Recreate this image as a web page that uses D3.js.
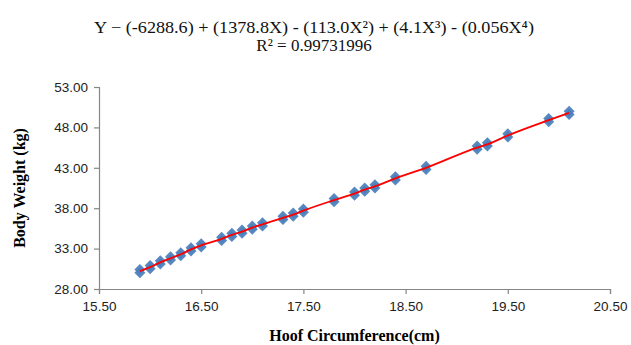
<!DOCTYPE html>
<html>
<head>
<meta charset="utf-8">
<script src="https://cdn.jsdelivr.net/npm/d3@7"></script>
<style>
  body { margin: 0; background: #fff; }
  svg { display: block; }
</style>
</head>
<body>
<div id="chart"></div>
<script>
// hoof circumference (cm) and body weight (kg), two observations per size
var hoof = [15.9, 15.9, 16.0, 16.0, 16.1, 16.1, 16.2, 16.2, 16.3, 16.3, 16.4, 16.4, 16.5, 16.5,
  16.7, 16.7, 16.8, 16.8, 16.9, 16.9, 17.0, 17.0, 17.1, 17.1,
  17.3, 17.3, 17.4, 17.4, 17.5, 17.5, 17.8, 17.8,
  18.0, 18.0, 18.1, 18.1, 18.2, 18.2, 18.4, 18.4, 18.7, 18.7,
  19.2, 19.2, 19.3, 19.3, 19.5, 19.5, 19.9, 19.9, 20.1, 20.1];
var weight = [30.0, 30.4, 30.5, 30.9, 31.1, 31.5, 31.6, 32.0, 32.1, 32.5, 32.7, 33.1, 33.2, 33.6,
  34.0, 34.4, 34.5, 34.9, 34.9, 35.3, 35.4, 35.8, 35.8, 36.2,
  36.6, 37.0, 37.0, 37.4, 37.5, 37.9, 38.8, 39.2,
  39.6, 40.0, 40.1, 40.5, 40.5, 40.9, 41.5, 41.9, 42.8, 43.2,
  45.3, 45.7, 45.7, 46.1, 46.8, 47.2, 48.7, 49.1, 49.6, 50.0];

// polynomial trend line values at each measured size
var fitX = [15.9, 16.0, 16.1, 16.2, 16.3, 16.4, 16.5, 16.7, 16.8, 16.9, 17.0, 17.1,
  17.3, 17.4, 17.5, 17.8, 18.0, 18.1, 18.2, 18.4, 18.7, 19.2, 19.3, 19.5, 19.9, 20.1];
var fitY = [30.2, 30.7, 31.3, 31.8, 32.3, 32.9, 33.4, 34.2, 34.7, 35.1, 35.6, 36.0,
  36.8, 37.2, 37.7, 39.0, 39.8, 40.3, 40.7, 41.7, 43.0, 45.5, 45.9, 47.0, 48.9, 49.8];

var xTicks = [15.5, 16.5, 17.5, 18.5, 19.5, 20.5];
var yTicks = [28, 33, 38, 43, 48, 53];

var titleLines = ["Y \u2212 (-6288.6) + (1378.8X) - (113.0X\u00b2) + (4.1X\u00b3) - (0.056X\u2074)",
  "R\u00b2 = 0.99731996"];

var W = 631, H = 345;
var margin = { top: 87, right: 21, bottom: 56, left: 99 };

var svg = d3.select("#chart").append("svg")
  .attr("width", W).attr("height", H);

var x = d3.scaleLinear().domain([15.5, 20.5]).range([margin.left, W - margin.right]);
var y = d3.scaleLinear().domain([28, 53]).range([H - margin.bottom, margin.top]);

// axes
var xAxis = svg.append("g")
  .attr("transform", "translate(0," + y(28) + ")")
  .call(d3.axisBottom(x).tickValues(xTicks).tickFormat(d3.format(".2f")).tickSizeOuter(0).tickSize(5).tickPadding(7));
var yAxis = svg.append("g")
  .attr("transform", "translate(" + x(15.5) + ",0)")
  .call(d3.axisLeft(y).tickValues(yTicks).tickFormat(d3.format(".2f")).tickSizeOuter(0).tickSize(5).tickPadding(6));

[xAxis, yAxis].forEach(function (g) {
  g.select(".domain").attr("stroke", "#868686").attr("stroke-width", 1.2);
  g.selectAll(".tick line").attr("stroke", "#868686").attr("stroke-width", 1.2);
  g.selectAll(".tick text")
    .attr("fill", "#222")
    .style("font-family", "Liberation Sans, Arial, sans-serif")
    .style("font-size", "13.5px");
});

// points, excel style square diamonds
var r = 5.5;
svg.append("g")
  .selectAll("path")
  .data(hoof.map(function (h, i) { return { x: h, y: weight[i] }; }))
  .enter()
  .append("path")
  .attr("d", "M0," + (-r) + "L" + r + ",0L0," + r + "L" + (-r) + ",0Z")
  .attr("transform", function (d) { return "translate(" + x(d.x) + "," + y(d.y) + ")"; })
  .attr("fill", "#4a7ebb")
  .attr("fill-opacity", 0.92);

// trend line
var line = d3.line()
  .x(function (d, i) { return x(fitX[i]); })
  .y(function (d) { return y(d); })
  .curve(d3.curveMonotoneX);
svg.append("path")
  .datum(fitY)
  .attr("d", line)
  .attr("fill", "none")
  .attr("stroke", "#ff0000")
  .attr("stroke-width", 1.8);

// title
svg.append("g")
  .selectAll("text")
  .data(titleLines)
  .enter()
  .append("text")
  .attr("x", 314)
  .attr("y", function (d, i) { return 33 + i * 18; })
  .attr("text-anchor", "middle")
  .attr("textLength", function (d, i) { return i == 0 ? 440 : null; })
  .attr("lengthAdjust", "spacingAndGlyphs")
  .style("font-family", "Liberation Serif, Times New Roman, serif")
  .style("font-size", "17px")
  .attr("fill", "#111")
  .text(function (d) { return d; });

// axis titles
svg.append("text")
  .attr("x", (margin.left + W - margin.right) / 2)
  .attr("y", 341)
  .attr("text-anchor", "middle")
  .style("font-family", "Liberation Serif, Times New Roman, serif")
  .style("font-size", "16px")
  .style("font-weight", "bold")
  .text("Hoof Circumference(cm)");

svg.append("text")
  .attr("transform", "translate(25," + ((margin.top + H - margin.bottom) / 2) + ") rotate(-90)")
  .attr("text-anchor", "middle")
  .style("font-family", "Liberation Serif, Times New Roman, serif")
  .style("font-size", "16px")
  .style("font-weight", "bold")
  .text("Body Weight (kg)");
</script>
</body>
</html>
